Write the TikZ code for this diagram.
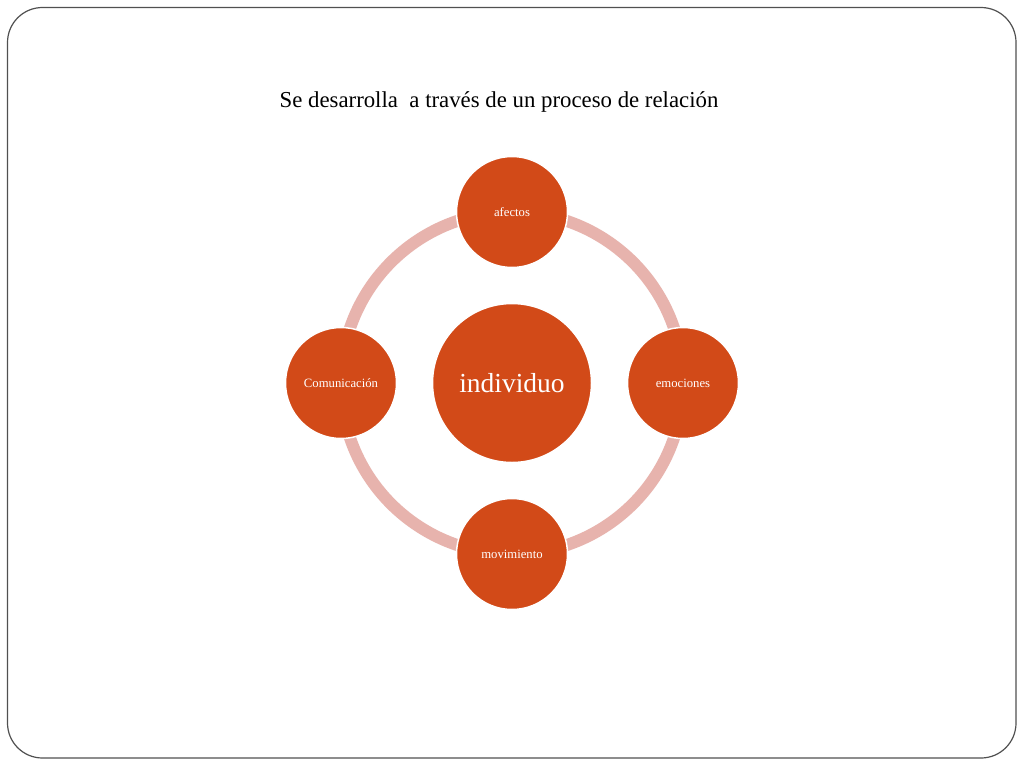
\documentclass[tikz,border=0pt]{standalone}
\usepackage{fontspec}
\setmainfont{Liberation Serif}
\definecolor{nodefill}{HTML}{D24A18}
\definecolor{ringcol}{HTML}{E7B3AD}
\definecolor{framecol}{HTML}{505050}
\begin{document}
\begin{tikzpicture}[x=1pt,y=-1pt,
  smallc/.style={circle,fill=nodefill,draw=white,line width=1.5pt,minimum size=111pt,inner sep=0pt,text=white,font=\fontsize{12.7}{15}\selectfont},
  bigc/.style={circle,fill=nodefill,draw=white,line width=1.5pt,minimum size=159pt,inner sep=0pt,text=white,font=\fontsize{27.5}{32}\selectfont},
  ring/.style={draw=ringcol,line width=12pt}]
\useasboundingbox (0,0) rectangle (1024,768);
\fill[white] (0,0) rectangle (1024,768);
\draw[framecol,line width=1.2pt,rounded corners=35pt] (7.5,7.5) rectangle (1016,758);
\node[anchor=base,font=\fontsize{22.8}{27}\selectfont] (title) at (499,107) {Se desarrolla\ \ a través de un proceso de relación};
\coordinate (ctr) at (512,383);
\draw[ring] (ctr) circle[radius=171];
\node[bigc] (ind) at (ctr) {individuo};
\node[smallc] (afe) at (512,212) {afectos};
\node[smallc] (emo) at (683,383) {emociones};
\node[smallc] (mov) at (512,554) {movimiento};
\node[smallc] (com) at (341,383) {Comunicación};
\end{tikzpicture}
\end{document}
